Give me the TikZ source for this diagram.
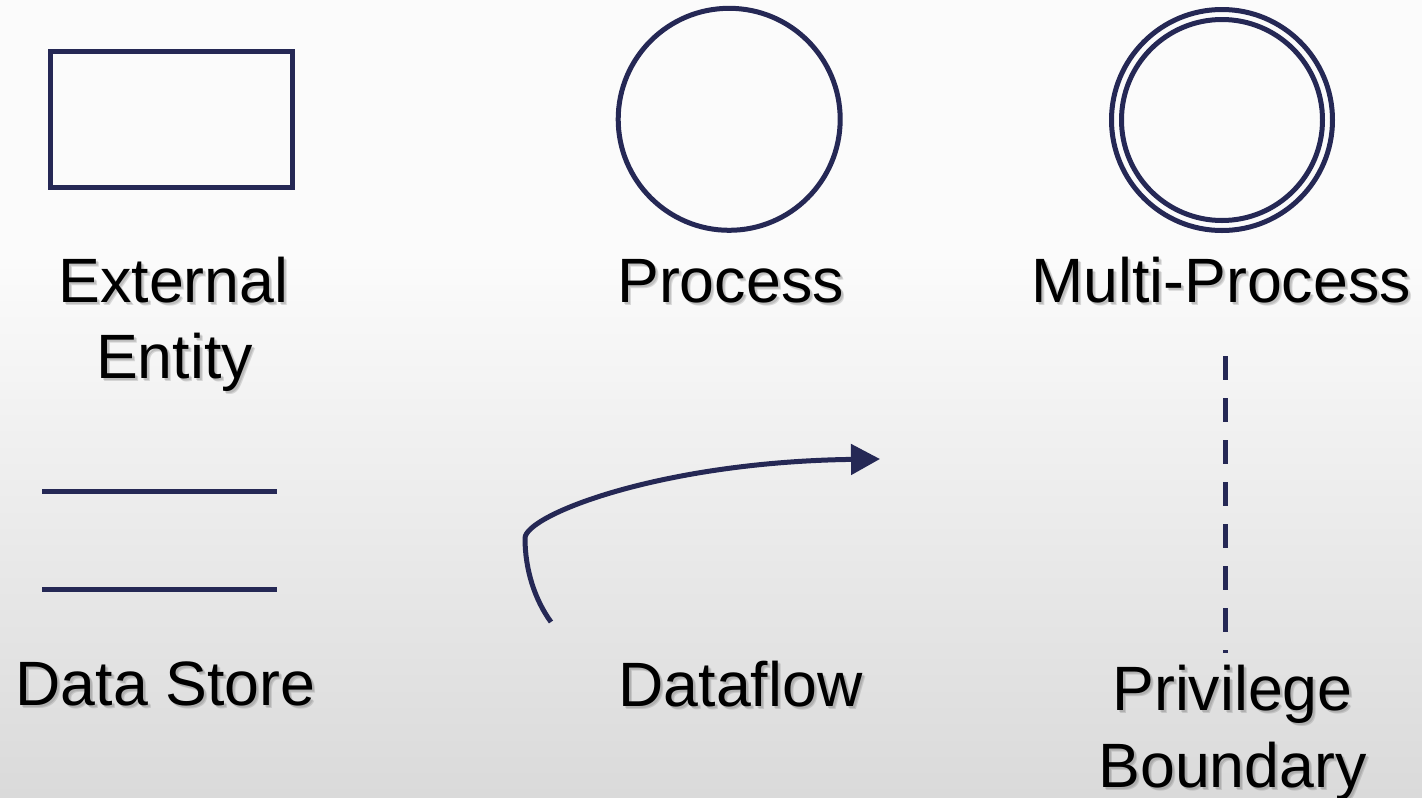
\documentclass[tikz,border=0pt]{standalone}
\usepackage{fontspec}
\setmainfont{Liberation Sans}
\usetikzlibrary{arrows.meta,calc}

\definecolor{ink}{HTML}{252855}
\definecolor{bgtop}{HTML}{FBFBFB}
\definecolor{bgbot}{HTML}{DADADA}

\tikzset{
  ink line/.style={draw=ink, line width=3.75pt},
  shapebox/.style={ink line, inner sep=0pt, outer sep=0pt},
  lbl/.style={font=\fontsize{47}{57}\selectfont, anchor=base, inner sep=0pt, text=black},
  lblshadow/.style={lbl, text=black!60, opacity=0.22},
}

% label with a soft drop shadow: name, position, text
\newcommand\shadowlabel[3]{%
  \node[lblshadow] (#1-s1) at ($(#2)+(2,2)$) {#3};
  \node[lblshadow] (#1-s2) at ($(#2)+(3,3.5)$) {#3};
  \node[lbl] (#1) at (#2) {#3};
}

\begin{document}
\begin{tikzpicture}[x=0.75pt, y=-0.75pt]
  % page and background
  \useasboundingbox (0,0) rectangle (1422,797);
  \fill[bgtop] (0,0) rectangle (1422,261);
  \shade[top color=bgtop, bottom color=bgbot] (0,260) rectangle (1422,797);

  % external entity
  \node[shapebox, rectangle, minimum width=181.5pt, minimum height=102pt] (ext) at (171.5,119.75) {};
  \shadowlabel{ext-l1}{173.5,302}{External}
  \shadowlabel{ext-l2}{174.5,378}{Entity}

  % process
  \node[shapebox, circle, minimum size=166.5pt] (proc) at (729.2,119.3) {};
  \shadowlabel{proc-l}{730.5,302}{Process}

  % multi-process
  \node[shapebox, circle, minimum size=165.75pt] (multi-out) at (1222,120) {};
  \node[shapebox, circle, minimum size=150.75pt] (multi-in) at (1222,120) {};
  \shadowlabel{multi-l}{1221,302}{Multi-Process}

  % data store
  \coordinate (ds1a) at (42,491);
  \coordinate (ds1b) at (277,491);
  \coordinate (ds2a) at (42,589);
  \coordinate (ds2b) at (277,589);
  \draw[ink line] (ds1a) -- (ds1b);
  \draw[ink line] (ds2a) -- (ds2b);
  \shadowlabel{ds-l}{165.5,705}{Data Store}

  % dataflow
  \coordinate (flow-start) at (551,622);
  \coordinate (flow-bend) at (525,538);
  \coordinate (flow-tip) at (880,459);
  \draw[ink line, -{Triangle[length=21.75pt, width=22.5pt]}]
    (flow-start) .. controls (535,600) and (525,570) .. (flow-bend)
    .. controls (526,515) and (660,462) .. (flow-tip);
  \shadowlabel{flow-l}{740.5,706}{Dataflow}

  % privilege boundary
  \coordinate (pb-top) at (1225,356);
  \coordinate (pb-bot) at (1225,653);
  \draw[ink line, dash pattern=on 18pt off 13.5pt] (pb-top) -- (pb-bot);
  \shadowlabel{pb-l1}{1232.5,710}{Privilege}
  \shadowlabel{pb-l2}{1232.5,787}{Boundary}
\end{tikzpicture}
\end{document}
